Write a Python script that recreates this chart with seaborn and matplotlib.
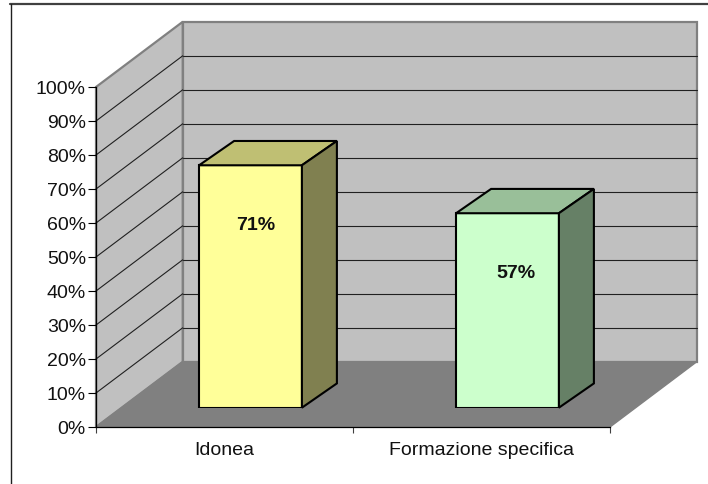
# grafico a barre 3D (stile Excel) ricostruito con seaborn
import matplotlib
matplotlib.use('Agg')
import matplotlib.pyplot as plt
import seaborn as sns
from matplotlib.patches import Polygon

categories = ['Idonea', 'Formazione specifica']
values = [71.3, 57.2]
value_labels = ['71%', '57%']
tick_values = [0, 10, 20, 30, 40, 50, 60, 70, 80, 90, 100]
tick_labels = ['0%', '10%', '20%', '30%', '40%', '50%', '60%', '70%', '80%', '90%', '100%']

front_colors = ['#FFFF99', '#CCFFCC']
top_colors = ['#BFBF73', '#99BF99']
side_colors = ['#808050', '#668066']

W, H = 708, 484

sns.set_theme(style='white')
plt.rcParams['font.family'] = ['Liberation Sans', 'DejaVu Sans']


def px_axes(fig, left, top, right, bottom):
    # assi posizionati in pixel dell'immagine
    return fig.add_axes([left / W, 1 - bottom / H, (right - left) / W, (bottom - top) / H])


fig = plt.figure(figsize=(W / 100, H / 100), dpi=100, facecolor='white')

# piano frontale e piano di fondo, in pixel
fx0, fx1, fy0, fy1 = 96, 610, 427, 87
dx, dy = 86.7, 65.2
sx, sy = 26, 19.3   # spostamento delle barre dentro il pavimento

# --- sfondo: pareti e pavimento ---
bg = fig.add_axes([0, 0, 1, 1])
bg.set_xlim(0, W)
bg.set_ylim(H, 0)
bg.axis('off')

bx0, bx1, by0, by1 = fx0 + dx, fx1 + dx, fy0 - dy, fy1 - dy
wall_edge = '#808080'
bg.add_patch(Polygon([(bx0, by0), (bx1, by0), (bx1, by1), (bx0, by1)], fc='#C0C0C0', ec=wall_edge, lw=1.6))
bg.add_patch(Polygon([(fx0, fy0), (bx0, by0), (bx0, by1), (fx0, fy1)], fc='#C0C0C0', ec=wall_edge, lw=1.6))
bg.add_patch(Polygon([(fx0, fy0), (fx1, fy0), (bx1, by0), (bx0, by0)], fc='#808080', ec=wall_edge, lw=1))

for t in tick_values[1:-1]:
    yf = fy0 + (fy1 - fy0) * t / 100
    yb = yf - dy
    bg.plot([fx0, bx0], [yf, yb], color='#202020', lw=0.8)
    bg.plot([bx0, bx1], [yb, yb], color='#202020', lw=0.8)

# cornice: solo in alto e a sinistra
bg.plot([10, 708], [4, 4], color='#404040', lw=1.6)
bg.plot([10.5, 10.5], [4, 484], color='#202020', lw=1)

# --- assi frontali: tick e etichette ---
ax = px_axes(fig, fx0, fy1, fx1, fy0)
ax.patch.set_alpha(0)
ax.set_xlim(-0.5, 1.5)
ax.set_ylim(0, 100)
ax.set_yticks(tick_values)
ax.set_yticklabels(tick_labels, fontsize=14, color='#111111')
ax.tick_params(axis='y', length=5.8, width=0.8, color='black', pad=1.5, left=True)
ax.set_xticks([-0.5, 0.5, 1.5])
ax.set_xticklabels([])
ax.tick_params(axis='x', which='major', length=4, width=0.8, color='#404040', bottom=True)
ax.set_xticks([0, 1], minor=True)
ax.set_xticklabels(categories, minor=True, fontsize=14, color='#111111')
ax.tick_params(axis='x', which='minor', length=0, pad=11)
for s in ['top', 'right']:
    ax.spines[s].set_visible(False)
for s in ['left', 'bottom']:
    ax.spines[s].set_color('black')
    ax.spines[s].set_linewidth(0.9)

# --- barre ---
ax_bar = px_axes(fig, fx0 + sx, fy1 - sy, fx1 + sx, fy0 - sy)
ax_bar.patch.set_alpha(0)
sns.barplot(x=categories, y=values, hue=categories, palette=front_colors, saturation=1,
            width=0.4, edgecolor='black', linewidth=1.5, legend=False, ax=ax_bar, zorder=3)
ax_bar.set_xlim(-0.5, 1.5)
ax_bar.set_ylim(0, 100)
ax_bar.axis('off')

# profondita' delle barre in unita' dati
depth_x = 35 / ((fx1 - fx0) / 2)
depth_y = 24.3 / ((fy0 - fy1) / 100)

# scostamento orizzontale delle etichette dal centro barra (punti)
label_shift = [3.6, 6]

for i, bar in enumerate(ax_bar.patches[:len(values)]):
    x0, x1 = bar.get_x(), bar.get_x() + bar.get_width()
    h = bar.get_height()
    top = [(x0, h), (x1, h), (x1 + depth_x, h + depth_y), (x0 + depth_x, h + depth_y)]
    side = [(x1, 0), (x1 + depth_x, depth_y), (x1 + depth_x, h + depth_y), (x1, h)]
    ax_bar.add_patch(Polygon(top, fc=top_colors[i], ec='black', lw=1.5, clip_on=False, zorder=3))
    ax_bar.add_patch(Polygon(side, fc=side_colors[i], ec='black', lw=1.5, clip_on=False, zorder=3))
    ax_bar.annotate(value_labels[i], xy=(i, h), xytext=(label_shift[i], -43.5), textcoords='offset points',
                    ha='center', va='center', fontsize=14, fontweight='bold', color='#111111', zorder=5)

fig.savefig('out.png', dpi=100)
